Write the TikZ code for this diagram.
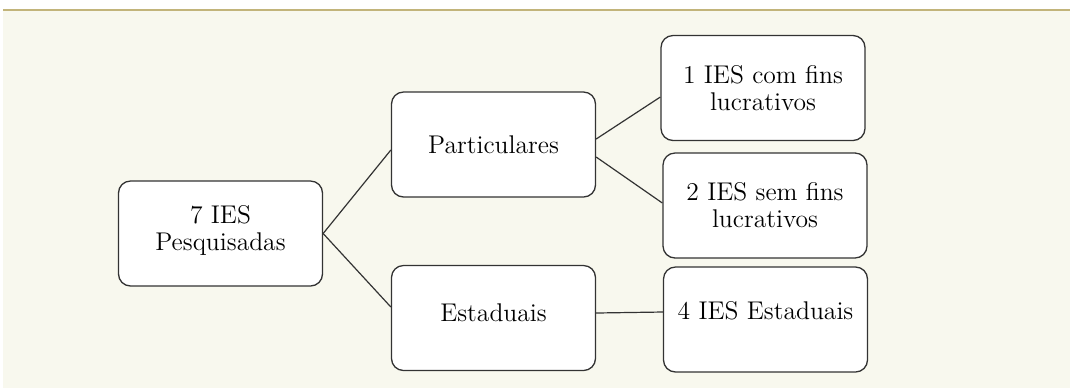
\documentclass[tikz,border=0pt]{standalone}
\usetikzlibrary{positioning}
\definecolor{paper}{HTML}{F8F8EE}
\definecolor{rulecol}{HTML}{C2B47A}
\definecolor{ink}{HTML}{333333}

\begin{document}
\begin{tikzpicture}[
  x=0.5pt, y=-0.5pt,
  font=\fontsize{12.8}{13.5}\selectfont,
  box/.style={draw=ink, fill=white, rounded corners=6pt, line width=0.65pt, align=center, minimum width=102pt, minimum height=52.5pt, inner sep=2pt},
  link/.style={draw=ink, line width=0.6pt}
]
\useasboundingbox (0,0) rectangle (1070,388);

% Background and top rule
\fill[paper] (3,9) rectangle (1070,388);
\draw[rulecol, line width=1pt] (3,9.5) -- (1070,9.5);

% Root
\node[box, text depth=6pt] (root) at (220.5,233.5) {7 IES\\Pesquisadas};

% Categories
\node[box] (part) at (493.5,144.5) {Particulares};
\node[box, text depth=5pt] (state) at (493.5,318) {Estaduais};

% Leaves
\node[box] (com) at (763,88) {1 IES com fins\\lucrativos};
\node[box] (sem) at (765,205.5) {2 IES sem fins\\lucrativos};
\node[box, text depth=9pt] (est) at (765.5,319.5) {4 IES Estaduais};

% Connectors
\draw[link] (root.east) -- ([yshift=-2.75pt]part.west);
\draw[link] (root.east) -- ([yshift=5.5pt]state.west);
\draw[link] ([yshift=2.75pt]part.east) -- ([yshift=-4.5pt]com.west);
\draw[link] ([yshift=-6.25pt]part.east) -- ([yshift=1.25pt]sem.west);
\draw[link] ([yshift=2.5pt]state.east) -- ([yshift=3.75pt]est.west);

\end{tikzpicture}
\end{document}
